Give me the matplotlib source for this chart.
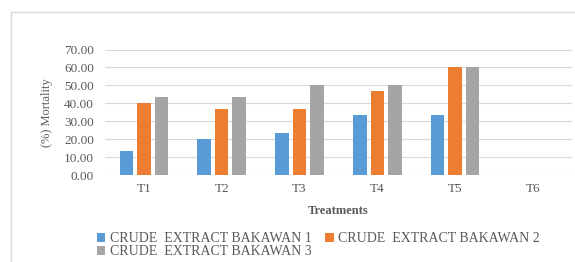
import matplotlib
matplotlib.use("Agg")
import matplotlib.pyplot as plt
import numpy as np
from matplotlib.lines import Line2D

treatments = ["T1", "T2", "T3", "T4", "T5", "T6"]
series_names = ["CRUDE  EXTRACT BAKAWAN 1", "CRUDE  EXTRACT BAKAWAN 2", "CRUDE  EXTRACT BAKAWAN 3"]
bakawan1 = [13.33, 20.00, 23.33, 33.33, 33.33, 0]
bakawan2 = [40.00, 36.67, 36.67, 46.67, 60.00, 0]
bakawan3 = [43.33, 43.33, 50.00, 50.00, 60.00, 0]
colors = ["#5B9BD5", "#ED7D31", "#A5A5A5"]

plt.rcParams['font.family'] = ['Liberation Serif', 'DejaVu Serif']
txt = "#595959"

fig = plt.figure(figsize=(5.75, 2.62), dpi=100)
ax = fig.add_axes([0.1826, 0.332, 0.812, 0.479])

x = np.arange(len(treatments))
w = 0.174
step = 0.225
bars = []
for i, (vals, name) in enumerate(zip([bakawan1, bakawan2, bakawan3], series_names)):
    bars.append(ax.bar(x + (i - 1) * step, vals, width=w, color=colors[i], label=name, zorder=3))

ax.set_xlim(-0.5, len(treatments) - 0.5)
ax.set_ylim(0, 70)
ax.set_yticks(np.arange(0, 71, 10))
ax.set_yticklabels([f"{v:.2f}" for v in np.arange(0, 71, 10)])
ax.set_xticks(x)
ax.set_xticklabels(treatments)
ax.grid(axis="y", color="#D9D9D9", linewidth=0.8, zorder=0)
for s in ax.spines.values():
    s.set_visible(False)
ax.tick_params(length=0, labelsize=9.5, labelcolor=txt)
ax.tick_params(axis="y", pad=8)
ax.tick_params(axis="x", pad=6)

ax.set_ylabel("(%) Mortality", fontsize=9, color=txt, labelpad=8)
ax.set_xlabel("Treatments", fontsize=9, color=txt, fontweight="bold", labelpad=7)

# legend order so row 1 = series 1, 2 and row 2 = series 3
order = [0, 2, 1]
leg = ax.legend([bars[i] for i in order], [series_names[i] for i in order],
                loc="upper left", bbox_to_anchor=(-0.017, -0.456), ncol=2, frameon=False,
                fontsize=10, handlelength=0.6, handleheight=0.6, handletextpad=0.3,
                columnspacing=1.0, labelspacing=0.0, borderaxespad=0, borderpad=0)
for t in leg.get_texts():
    t.set_color(txt)

# outer frame of the chart area (cut by the image edge)
fig.add_artist(Line2D([11 / 575, 1], [1 - 12 / 262, 1 - 12 / 262], color="#D9D9D9", linewidth=1))
fig.add_artist(Line2D([11 / 575, 11 / 575], [0, 1 - 12 / 262], color="#D9D9D9", linewidth=1))

fig.savefig("out.png", dpi=100)
